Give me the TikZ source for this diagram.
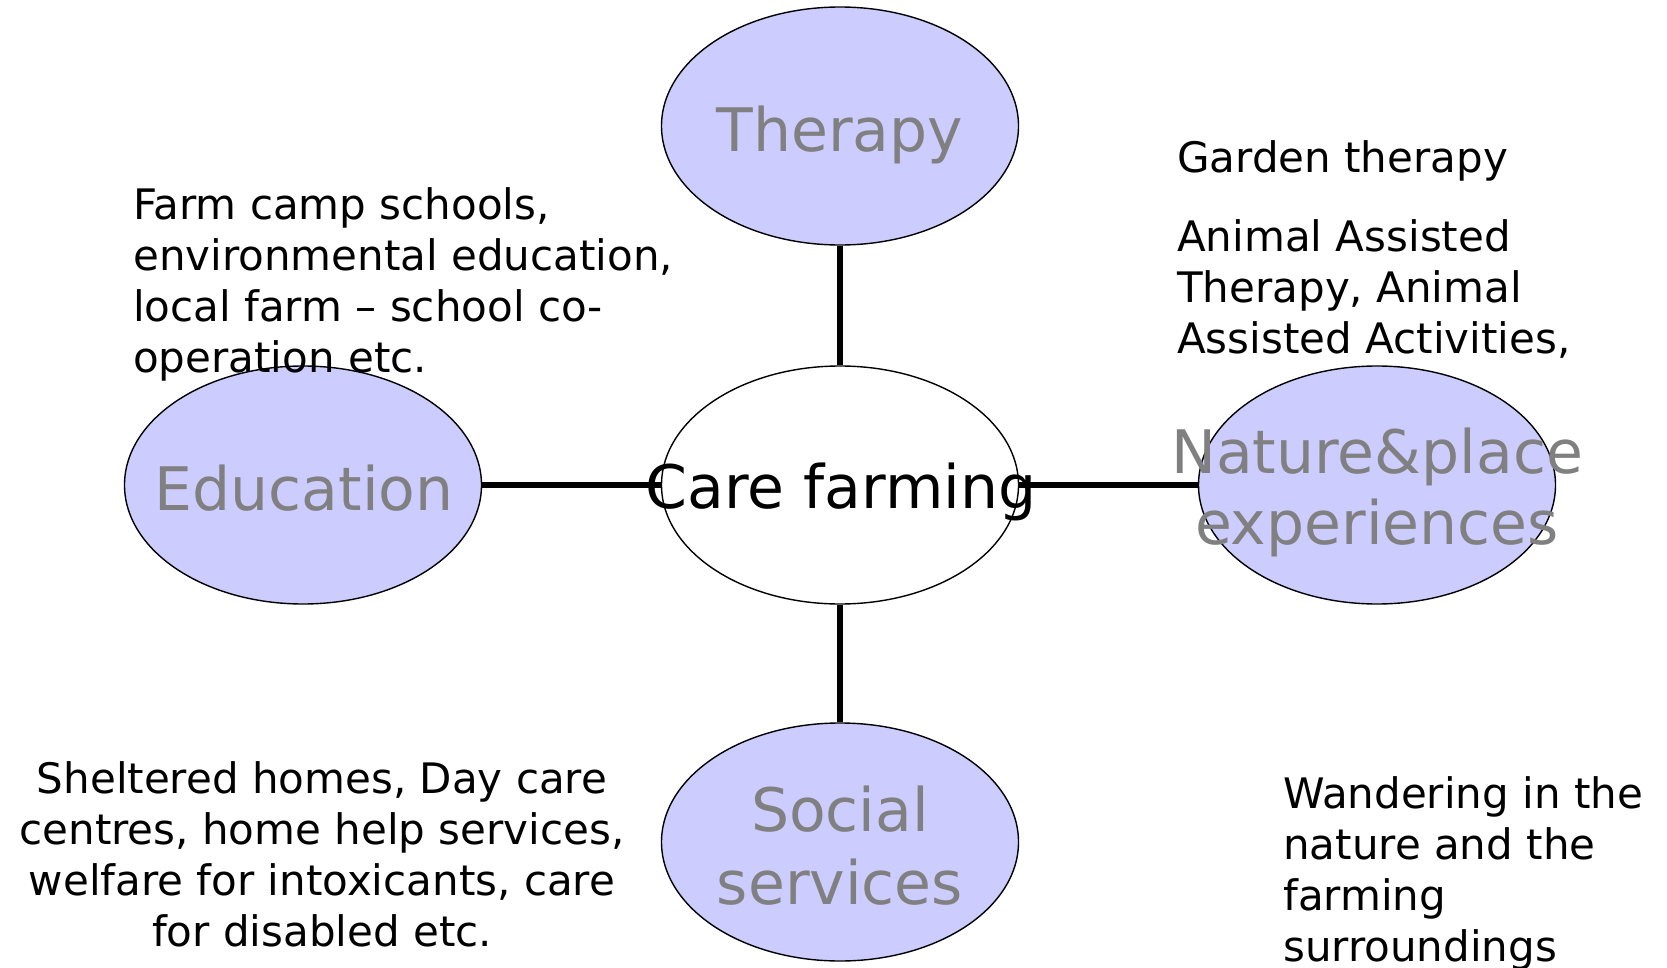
\documentclass[tikz,border=0pt]{standalone}
\usepackage{fontspec}
\setmainfont{DejaVu Sans}
\usetikzlibrary{shapes.geometric}
\definecolor{bubble}{HTML}{CCCCFF}
\definecolor{labelgrey}{HTML}{808080}
\tikzset{
  bubble/.style={ellipse, draw=black, line width=1.4pt, fill=bubble, minimum width=357pt, minimum height=238pt, inner sep=0pt},
  whitebubble/.style={bubble, fill=white},
  link/.style={line width=5.5pt, black},
  biglabel/.style={text=labelgrey, font=\fontsize{60}{72}\selectfont, inner sep=0pt, anchor=base, align=center},
  smalltext/.style={text=black, font=\fontsize{42}{51}\selectfont, inner sep=0pt}
}
\begin{document}
\begin{tikzpicture}[x=1pt,y=-1pt]
\useasboundingbox (0,0) rectangle (1667,968);
\fill[white] (0,0) rectangle (1667,968);
% ellipses
\node[bubble] (therapy) at (840,126) {};
\node[whitebubble] (care) at (840,485) {};
\node[bubble] (education) at (303,485) {};
\node[bubble] (nature) at (1377,485) {};
\node[bubble] (social) at (840,842) {};
% connectors
\draw[link] (therapy) -- (care);
\draw[link] (education) -- (care);
\draw[link] (care) -- (nature);
\draw[link] (care) -- (social);
% labels
\node[biglabel] (tTherapy) at (840,152) {Therapy};
\node[biglabel] (tEducation) at (304,510) {Education};
\node[biglabel, text=black] (tCare) at (841,508) {Care farming};
\node[biglabel] (tNature1) at (1377,473) {Nature\&place};
\node[biglabel] (tNature2) at (1377,544) {experiences};
\node[biglabel] (tSocial1) at (840,831) {Social};
\node[biglabel] (tSocial2) at (840,904) {services};
% descriptive texts (base anchor = baseline of last line)
\node[smalltext, anchor=base west, align=left] (edtext) at (133,372) {Farm camp schools,\\environmental education,\\local farm – school co-\\operation etc.};
\node[smalltext, anchor=base west] (garden) at (1177,173) {Garden therapy};
\node[smalltext, anchor=base west, align=left] (animal) at (1177,353) {Animal Assisted\\Therapy, Animal\\Assisted Activities,};
\node[smalltext, anchor=base, align=center] (soctext) at (322,946) {Sheltered homes, Day care\\centres, home help services,\\welfare for intoxicants, care\\for disabled etc.};
\node[smalltext, anchor=base west, align=left] (wander) at (1283,961) {Wandering in the\\nature and the\\farming\\surroundings};
\end{tikzpicture}
\end{document}
